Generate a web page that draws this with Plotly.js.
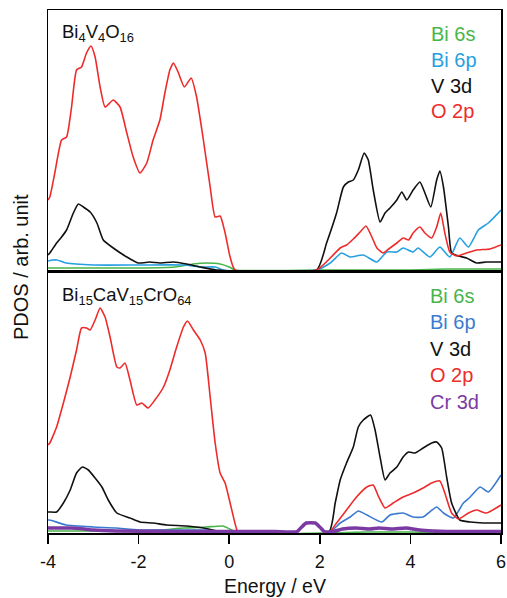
<!DOCTYPE html>
<html><head><meta charset="utf-8">
<script src="https://cdn.plot.ly/plotly-3.0.1.min.js"></script>
<style>html,body{margin:0;padding:0;background:#fff}#chart{width:507px;height:598px}</style>
</head><body><div id="chart"></div>
<script>
// ---------- Top panel: Bi4V4O16 ----------
var topO2pE = [-4.0,-3.96,-3.85,-3.70,-3.59,-3.48,-3.37,-3.26,-3.15,-3.05,-2.96,-2.85,-2.74,-2.56,-2.41,-2.26,-2.12,-1.97,-1.82,-1.68,-1.53,-1.42,-1.31,-1.23,-1.12,-0.99,-0.84,-0.72,-0.57,-0.42,-0.31,-0.20,-0.09,0.02,0.13,
  1.93,2.23,2.45,2.59,2.74,2.89,3.02,3.15,3.26,3.40,3.55,3.70,3.84,3.96,4.06,4.21,4.32,4.47,4.58,4.67,4.76,4.87,5.02,5.24,5.46,5.76,6.0];
var topO2p  = [70,73,97,130,133,163,200,203,217,224,213,183,163,170,163,137,113,97,107,130,150,177,200,207,197,183,192,173,130,83,53,54,37,13,0,
  0,12,22,25,31,38,44,33,22,17,22,27,32,30,37,43,37,32,43,57,37,18,14,17,20,21,25];

var topV3dE = [-4.0,-3.96,-3.81,-3.70,-3.59,-3.44,-3.33,-3.22,-3.07,-2.92,-2.78,-2.56,-2.26,-2.01,-1.75,-1.53,-1.23,-0.94,-0.64,-0.28,
  1.93,2.15,2.37,2.52,2.63,2.74,2.85,2.98,3.07,3.18,3.33,3.44,3.55,3.70,3.81,3.92,4.06,4.21,4.32,4.45,4.58,4.65,4.73,4.84,4.91,5.06,5.24,5.46,5.68,6.0];
var topV3d  = [15,17,27,33,40,57,66,63,58,47,30,22,13,7,8,7,8,6,3,0,
  0,27,57,83,88,90,100,117,110,80,48,57,62,70,78,70,80,88,77,63,90,99,83,43,17,14,12,7,8,8];

var topBi6pE = [-4.0,-3.9,-3.8,-3.6,-3.0,-2.0,-1.0,-0.6,-0.3,-0.15,
  1.93,2.23,2.48,2.67,2.96,3.26,3.48,3.70,3.84,4.06,4.17,4.43,4.65,4.87,5.09,5.28,5.50,5.72,6.0];
var topBi6p  = [9,10,10,7,5,5,5,3,3,0,
  0,7,17,13,15,8,18,18,22,18,22,13,23,13,32,23,40,47,60];

var topBi6sE = [-4.0,-3.0,-2.0,-1.2,-0.8,-0.5,-0.2,0.0,0.13,
  1.93,3.0,4.0,4.8,5.5,6.0];
var topBi6s  = [2,2,2,3,6,7,6,3,0,
  0,0,0,1,1,1];

// ---------- Bottom panel: Bi15CaV15CrO64 ----------
var botO2pE = [-4.0,-3.96,-3.81,-3.66,-3.51,-3.37,-3.26,-3.15,-3.07,-2.96,-2.85,-2.74,-2.63,-2.48,-2.41,-2.30,-2.19,-2.04,-1.93,-1.79,-1.64,-1.45,-1.31,-1.16,-1.01,-0.92,-0.79,-0.64,-0.53,-0.42,-0.31,-0.20,-0.09,0.02,0.17,0.22,
  2.19,2.37,2.59,2.81,3.04,3.18,3.29,3.44,3.62,3.84,4.06,4.28,4.47,4.65,4.76,4.91,5.06,5.28,5.46,5.68,6.0];
var botO2p  = [88,90,106,130,156,183,205,205,203,213,225,216,196,166,165,170,153,128,130,125,133,146,163,186,206,212,203,193,180,136,90,60,50,30,3,0,
  0,10,23,36,46,48,37,25,30,36,40,45,50,52,40,20,14,20,23,20,28];

var botV3dE = [-4.0,-3.96,-3.81,-3.66,-3.51,-3.37,-3.24,-3.11,-2.96,-2.81,-2.67,-2.48,-2.19,-1.97,-1.68,-1.38,-0.94,-0.57,-0.28,-0.14,
  2.19,2.34,2.45,2.59,2.74,2.85,2.96,3.12,3.22,3.33,3.44,3.55,3.70,3.84,3.96,4.10,4.28,4.47,4.58,4.69,4.80,4.91,5.09,5.32,5.61,6.0];
var botV3d  = [21,21,21,30,43,60,66,63,55,46,33,20,15,11,10,8,7,5,2,0,
  0,30,53,70,86,106,113,118,103,76,53,60,66,76,81,80,85,90,91,85,56,30,13,11,10,10];

var botBi6pE = [-4.0,-3.96,-3.6,-3.0,-2.5,-2.0,-1.0,-0.5,-0.2,0.0,
  2.19,2.45,2.67,2.85,3.04,3.37,3.55,3.84,4.06,4.28,4.58,4.73,4.95,5.17,5.32,5.54,5.72,6.0];
var botBi6p  = [13,13,8,6,5,3,3,3,2,0,
  0,10,16,22,18,11,18,20,16,16,26,20,15,30,36,46,41,58];

var botBi6sE = [-4.0,-3.0,-2.0,-1.5,-1.0,-0.5,-0.14,0.05,0.15,
  2.2,3.0,4.0,5.0,6.0];
var botBi6s  = [2,2,2,3,5,6,7,3,0,
  0,1,1,0,0];

var botCr3dE = [-4.0,-3.8,-3.5,-3.2,-3.0,-2.5,-1.0,0.0,1.0,1.5,1.6,1.7,1.9,2.0,2.1,2.3,2.5,2.8,3.1,3.3,3.6,3.9,4.2,4.5,4.8,5.2,6.0];
var botCr3d  = [5,5,5,4,3,2,1.5,1.5,1.5,1.5,6,10,10,6,1.5,1.5,4,5,4,5,4,5,3,2,1.5,1.5,1.5];

var xTickVals = [-4,-2,0,2,4,6];
var xTickText = ['-4','-2','0','2','4','6'];

var cRed = '#ee2b2b', cBlack = '#111111', cBlueTop = '#27a0e2', cBlueBot = '#3b7bcf', cGreen = '#48b54a', cPurple = '#7b3aa3';

function tr(x, y, color, yaxis, w, name) {
  return {x: x, y: y, type: 'scatter', mode: 'lines', xaxis: yaxis === 'y' ? 'x' : 'x2', yaxis: yaxis,
    line: {color: color, width: w || 1.6, shape: 'spline', smoothing: 0.5}, hoverinfo: 'skip', name: name, showlegend: false};
}

var data = [
  tr(topBi6sE, topBi6s, cGreen, 'y', 1.6, 'Bi 6s'),
  tr(topBi6pE, topBi6p, cBlueTop, 'y', 1.6, 'Bi 6p'),
  tr(topV3dE, topV3d, cBlack, 'y', 1.6, 'V 3d'),
  tr(topO2pE, topO2p, cRed, 'y', 1.6, 'O 2p'),
  tr(botBi6sE, botBi6s, cGreen, 'y2', 1.6, 'Bi 6s'),
  tr(botBi6pE, botBi6p, cBlueBot, 'y2', 1.6, 'Bi 6p'),
  tr(botV3dE, botV3d, cBlack, 'y2', 1.6, 'V 3d'),
  tr(botO2pE, botO2p, cRed, 'y2', 1.6, 'O 2p'),
  tr(botCr3dE, botCr3d, cPurple, 'y2', 3.5, 'Cr 3d')
];

var F = 'Liberation Sans, Arial, sans-serif';
function px2x(px) { return (px - 48) / 453; }
function py2y(py) { return (533 - py) / 523; }
function ann(text, px, py, color, extra, size) {
  var a = {text: text, xref: 'paper', yref: 'paper', x: px2x(px), y: py2y(py), xanchor: 'left', yanchor: 'middle',
    showarrow: false, font: {family: F, size: size || 20, color: color}};
  for (var k in extra) a[k] = extra[k];
  return a;
}

var annotations = [
  ann('Bi<sub>4</sub>V<sub>4</sub>O<sub>16</sub>', 60, 33, '#111', {}, 18.5),
  ann('Bi<sub>15</sub>CaV<sub>15</sub>CrO<sub>64</sub>', 60, 296, '#111', {}, 18.5),
  ann('Bi 6s', 429, 34, cGreen), ann('Bi 6p', 429, 60, cBlueTop), ann('V 3d', 429, 86, cBlack), ann('O 2p', 429, 111, cRed),
  ann('Bi 6s', 428, 296, cGreen), ann('Bi 6p', 428, 322, cBlueBot), ann('V 3d', 428, 349, cBlack), ann('O 2p', 428, 375, cRed), ann('Cr 3d', 428, 402, cPurple),
  ann('PDOS / arb. unit', 21, 267, '#111', {xanchor: 'center', textangle: -90}),
  ann('Energy / eV', 274.5, 585.5, '#111', {xanchor: 'center', borderpad: 0}, 19.5)
];

var axLine = {showline: true, linecolor: '#000', linewidth: 1.5, mirror: true, showgrid: false, zeroline: false};
var layout = {
  width: 507, height: 598, margin: {l: 48, r: 6, t: 10, b: 65},
  paper_bgcolor: '#fff', plot_bgcolor: '#fff', showlegend: false,
  font: {family: F, size: 17, color: '#111'},
  xaxis: Object.assign({}, axLine, {range: [-4, 6], anchor: 'y', showticklabels: false, ticks: '', matches: 'x2'}),
  yaxis: Object.assign({}, axLine, {domain: [0.5, 1], range: [-1.5, 260], showticklabels: false, ticks: ''}),
  xaxis2: Object.assign({}, axLine, {range: [-4, 6], anchor: 'y2', tickmode: 'array', tickvals: xTickVals, ticktext: xTickText,
    ticks: 'outside', ticklen: 9, tickwidth: 1.5, tickcolor: '#000', ticklabelstandoff: 3, tickfont: {family: F, size: 18, color: '#111'}}),
  yaxis2: Object.assign({}, axLine, {domain: [0, 0.5], range: [0, 261.5], showticklabels: false, ticks: ''}),
  annotations: annotations
};

Plotly.newPlot('chart', data, layout, {displayModeBar: false, staticPlot: true});
</script></body></html>
